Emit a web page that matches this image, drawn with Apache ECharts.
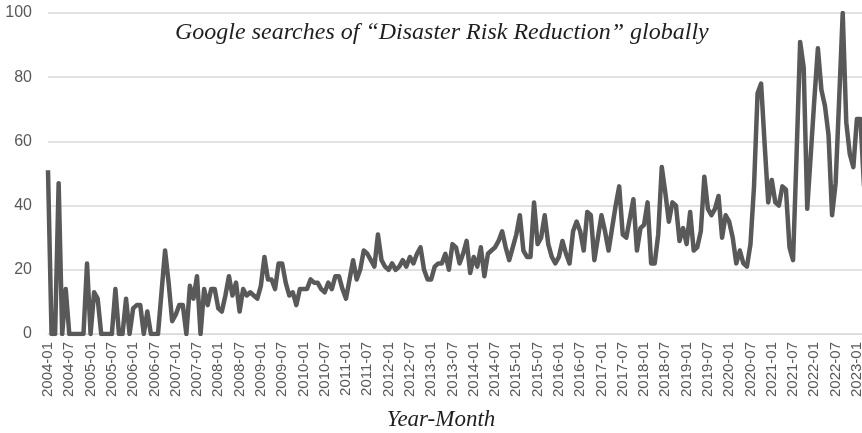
<!DOCTYPE html>
<html>
<head>
<meta charset="utf-8">
<script src="https://cdn.jsdelivr.net/npm/echarts@6/dist/echarts.min.js"></script>
<style>
  html, body { margin: 0; padding: 0; background: #fff; }
  #main { width: 862px; height: 433px; }
</style>
</head>
<body>
<div id="main"></div>
<script>
const chartTitle = "Google searches of \u201cDisaster Risk Reduction\u201d globally";
const axisTitle = "Year-Month";
const firstYear = 2004;
const monthCount = 231;
const yTicks = [0, 20, 40, 60, 80, 100];

// search interest per month, one row per year (2004-01 .. 2023-03)
const searches = [
  51, 0, 0, 47, 0, 14, 0, 0, 0, 0, 0, 22,
  0, 13, 11, 0, 0, 0, 0, 14, 0, 0, 11, 0,
  8, 9, 9, 0, 7, 0, 0, 0, 13, 26, 16, 4,
  6, 9, 9, 0, 15, 11, 18, 0, 14, 9, 14, 14,
  8, 7, 12, 18, 12, 16, 7, 14, 12, 13, 12, 11,
  15, 24, 17, 17, 14, 22, 22, 16, 12, 13, 9, 14,
  14, 14, 17, 16, 16, 14, 13, 16, 14, 18, 18, 14,
  11, 17, 23, 17, 20, 26, 25, 23, 21, 31, 23, 21,
  20, 22, 20, 21, 23, 21, 24, 22, 25, 27, 20, 17,
  17, 21, 22, 22, 25, 20, 28, 27, 22, 25, 29, 19,
  24, 21, 27, 18, 25, 26, 27, 29, 32, 27, 23, 27,
  31, 37, 26, 24, 24, 41, 28, 30, 37, 28, 24, 22,
  24, 29, 25, 22, 32, 35, 32, 26, 38, 37, 23, 30,
  37, 32, 26, 33, 40, 46, 31, 30, 36, 42, 26, 33,
  34, 41, 22, 22, 31, 52, 44, 35, 41, 40, 29, 33,
  28, 38, 26, 27, 32, 49, 39, 37, 39, 43, 30, 37,
  35, 30, 22, 26, 22, 21, 28, 46, 75, 78, 59, 41,
  48, 41, 40, 46, 45, 27, 23, 56, 91, 83, 39, 56,
  73, 89, 76, 71, 62, 37, 47, 73, 100, 66, 56, 52,
  67, 67, 46
];

const months = [];
for (let i = 0; i < monthCount; i++) {
  const y = firstYear + Math.floor(i / 12);
  const m = (i % 12) + 1;
  months.push(y + "-" + (m < 10 ? "0" + m : m));
}

const chart = echarts.init(document.getElementById("main"));

const option = {
  backgroundColor: "#ffffff",
  animation: false,
  title: {
    text: chartTitle,
    left: 170,
    top: 16,
    textStyle: {
      fontFamily: "Liberation Serif",
      fontStyle: "italic",
      fontWeight: "normal",
      fontSize: 24,
      color: "#1f1f1f",
    },
  },
  grid: {
    left: 48,
    right: -2,
    top: 13,
    bottom: 99,
    containLabel: false,
    outerBoundsMode: "none",
  },
  xAxis: {
    type: "category",
    data: months,
    boundaryGap: false,
    name: axisTitle,
    nameLocation: "middle",
    nameGap: 74,
    nameTextStyle: {
      fontFamily: "Liberation Serif",
      fontStyle: "italic",
      fontSize: 23,
      color: "#1f1f1f",
      padding: [0, 30, 0, 0],
    },
    axisLine: { show: true, lineStyle: { color: "#d9d9d9", width: 1 } },
    axisTick: { show: false },
    axisLabel: {
      interval: 5,
      rotate: 90,
      margin: 8,
      fontFamily: "Liberation Sans",
      fontSize: 15,
      color: "#595959",
    },
  },
  yAxis: {
    type: "value",
    min: yTicks[0],
    max: yTicks[yTicks.length - 1],
    interval: yTicks[1] - yTicks[0],
    axisLine: { show: false },
    axisTick: { show: false },
    axisLabel: {
      margin: 16,
      fontFamily: "Liberation Sans",
      fontSize: 16,
      color: "#595959",
    },
    splitLine: { lineStyle: { color: "#d9d9d9", width: 1.5 } },
  },
  series: [
    {
      type: "line",
      data: searches,
      showSymbol: false,
      symbol: "none",
      lineStyle: { color: "#595959", width: 4.5, join: "round" },
      z: 3,
    },
  ],
};

chart.setOption(option);
</script>
</body>
</html>
